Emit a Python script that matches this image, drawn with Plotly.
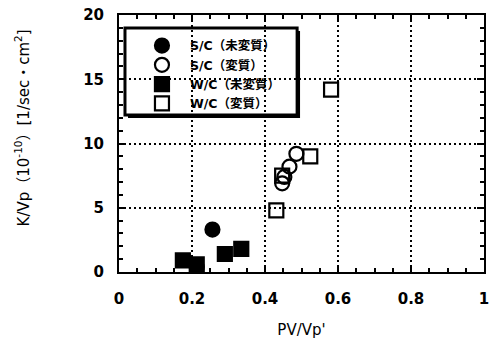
import plotly.graph_objects as go

# PV/Vp' vs K/Vp for unaltered / altered S/C and W/C specimens
sc_raw_x = [0.213, 0.256]
sc_raw_y = [0.4, 3.3]
sc_alt_x = [0.447, 0.453, 0.467, 0.486]
sc_alt_y = [6.9, 7.4, 8.2, 9.2]
wc_raw_x = [0.175, 0.213, 0.29, 0.335]
wc_raw_y = [0.9, 0.6, 1.4, 1.8]
wc_alt_x = [0.431, 0.447, 0.524, 0.581]
wc_alt_y = [4.8, 7.5, 9.0, 14.2]

series = [
    ("S/C（未変質）", sc_raw_x, sc_raw_y, "circle"),
    ("S/C（変質）", sc_alt_x, sc_alt_y, "circle-open"),
    ("W/C（未変質）", wc_raw_x, wc_raw_y, "square"),
    ("W/C（変質）", wc_alt_x, wc_alt_y, "square-open"),
]

FONT = "DejaVu Sans, Noto Sans CJK JP, sans-serif"

fig = go.Figure()
for name, xs, ys, sym in series:
    fig.add_trace(go.Scatter(
        x=xs, y=ys, mode="markers", name=name,
        marker=dict(symbol=sym, size=14, color="black",
                    line=dict(color="black", width=2.2)),
    ))

axis_common = dict(
    showline=True, linecolor="black", linewidth=2, mirror="ticks",
    ticks="inside", ticklen=7, tickwidth=1.5, tickcolor="black",
    showgrid=True, gridcolor="black", gridwidth=1.6, griddash="2px,3px",
    zeroline=False, automargin=False,
    tickfont=dict(family=FONT, size=15, color="black", weight="bold"),
)

fig.update_xaxes(
    range=[0, 1], tickvals=[0, 0.2, 0.4, 0.6, 0.8, 1],
    ticktext=["0", "0.2", "0.4", "0.6", "0.8", "1"],
    ticklabelstandoff=12,
    minor=dict(dtick=0.05, ticks="inside", ticklen=4, tickcolor="black", showgrid=False),
    title=dict(text="PV/Vp'", font=dict(family=FONT, size=15, color="black"), standoff=17),
    **axis_common,
)
fig.update_yaxes(
    range=[0, 20], tickvals=[0, 5, 10, 15, 20],
    ticklabelstandoff=10,
    minor=dict(dtick=1, ticks="inside", ticklen=4, tickcolor="black", showgrid=False),
    **axis_common,
)

# y-axis title, placed as a rotated annotation
fig.add_annotation(
    text="K/Vp（10<sup>-10</sup>）[1/sec・cm<sup>2</sup>]",
    xref="paper", yref="paper", x=-0.266, y=0.5, yshift=16,
    xanchor="center", yanchor="middle", textangle=-90, showarrow=False,
    font=dict(family=FONT, size=15, color="black"),
)

# legend panel: drop shadow plus white box with heavy border (above the grid)
fig.add_shape(type="rect", xref="paper", yref="paper",
              x0=0.0247, x1=0.496, y0=0.599, y1=0.938,
              fillcolor="black", line=dict(width=0), layer="between")
fig.add_shape(type="rect", xref="paper", yref="paper",
              x0=0.0164, x1=0.488, y0=0.611, y1=0.949,
              fillcolor="white", line=dict(color="black", width=3), layer="between")

fig.update_layout(
    width=496, height=342,
    margin=dict(l=119, r=12, t=15, b=70, autoexpand=False),
    plot_bgcolor="white", paper_bgcolor="white",
    showlegend=True,
    legend=dict(
        x=0.041, y=0.938, xanchor="left", yanchor="top",
        bgcolor="rgba(0,0,0,0)", borderwidth=0,
        font=dict(family=FONT, size=12.5, color="black", weight="bold"),
        tracegroupgap=0, itemwidth=46,
    ),
)

fig.write_html("out.html")
